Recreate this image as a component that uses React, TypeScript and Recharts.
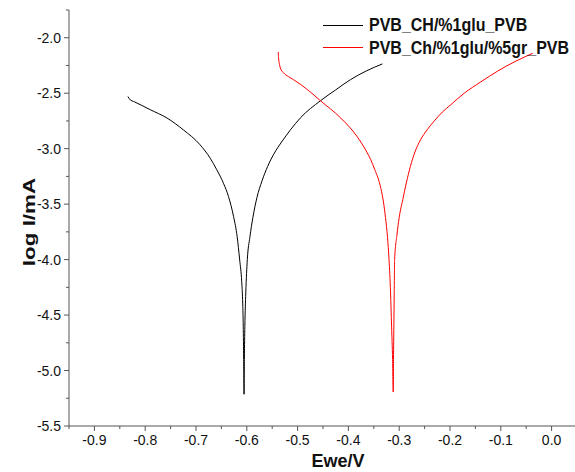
import React from "react";
import { LineChart, Line, XAxis, YAxis, Legend } from "recharts";

const font = '"Liberation Sans", Arial, sans-serif';
const axisColor = "#555";

// Ewe (V) and log I (mA)
const chGluE = [
  -0.834, -0.829, -0.823, -0.79, -0.757, -0.725, -0.692, -0.672, -0.659, -0.646,
  -0.636, -0.626, -0.619, -0.614, -0.61, -0.608, -0.607, -0.6062, -0.6054, -0.6048,
  -0.6038, -0.602, -0.599, -0.594, -0.588, -0.58, -0.57, -0.559, -0.547, -0.53,
  -0.514, -0.494, -0.455, -0.425, -0.396, -0.365, -0.333,
];
const chGluLogI = [
  -2.53, -2.562, -2.574, -2.649, -2.724, -2.83, -2.965, -3.086, -3.191, -3.311,
  -3.432, -3.613, -3.793, -4.004, -4.2, -4.4, -4.6, -4.9, -5.214, -4.9,
  -4.6, -4.3, -4.0, -3.8, -3.62, -3.44, -3.29, -3.16, -3.05, -2.93,
  -2.83, -2.72, -2.568, -2.47, -2.378, -2.3, -2.236,
];

const grE = [
  -0.538, -0.5375, -0.536, -0.534, -0.528, -0.518, -0.508, -0.48, -0.455, -0.415,
  -0.383, -0.365, -0.356, -0.348, -0.342, -0.336, -0.331, -0.327, -0.323, -0.32,
  -0.317, -0.315, -0.313, -0.3117, -0.3112, -0.3105, -0.3098, -0.309, -0.3045, -0.3,
  -0.293, -0.286, -0.278, -0.269, -0.258, -0.245, -0.231, -0.215, -0.2, -0.172,
  -0.14, -0.106, -0.07, -0.037,
];
const grLogI = [
  -2.128, -2.18, -2.23, -2.272, -2.315, -2.35, -2.378, -2.47, -2.568, -2.724,
  -2.89, -3.02, -3.1, -3.19, -3.26, -3.36, -3.48, -3.62, -3.8, -4.0,
  -4.3, -4.6, -4.9, -5.194, -4.9, -4.6, -4.3, -4.0, -3.78, -3.62,
  -3.46, -3.31, -3.16, -3.03, -2.92, -2.83, -2.75, -2.67, -2.61, -2.5,
  -2.4, -2.3, -2.21, -2.14,
];

const seriesNames = ["PVB_CH/%1glu_PVB", "PVB_Ch/%1glu/%5gr_PVB"];
const seriesColors = ["#000000", "#ff0000"];

const xTicks = [
  -0.95, -0.9, -0.85, -0.8, -0.75, -0.7, -0.65, -0.6, -0.55, -0.5, -0.45,
  -0.4, -0.35, -0.3, -0.25, -0.2, -0.15, -0.1, -0.05, 0, 0.05,
];
const yTicks = [
  -5.5, -5.25, -5.0, -4.75, -4.5, -4.25, -4.0, -3.75, -3.5, -3.25, -3.0,
  -2.75, -2.5, -2.25, -2.0, -1.75,
];

const toRows = (xs: number[], ys: number[]) => xs.map((e, i) => ({ e, logI: ys[i] }));
const chGluRows = toRows(chGluE, chGluLogI);
const grRows = toRows(grE, grLogI);

const isMajorX = (v: number) => Math.abs(v * 10 - Math.round(v * 10)) < 1e-6;
const isMajorY = (v: number) => Math.abs(v * 2 - Math.round(v * 2)) < 1e-6;

const BottomTick = (props: any) => {
  const { x, y, payload } = props;
  const major = isMajorX(payload.value);
  return (
    <g>
      <line x1={x} x2={x} y1={y} y2={y + (major ? 5 : 3)} stroke={axisColor} />
      {major && (
        <text x={x} y={y + 19} textAnchor="middle" fontSize={14} fontFamily={font} fill="#111">
          {payload.value.toFixed(1)}
        </text>
      )}
    </g>
  );
};

const TopTick = (props: any) => {
  const { x, y, payload } = props;
  const major = isMajorX(payload.value);
  return <line x1={x} x2={x} y1={y} y2={y + (major ? 4 : 2)} stroke={axisColor} />;
};

const LeftTick = (props: any) => {
  const { x, y, payload } = props;
  const major = isMajorY(payload.value);
  return (
    <g>
      <line x1={x - (major ? 5 : 3)} x2={x} y1={y} y2={y} stroke={axisColor} />
      {major && (
        <text x={x - 8} y={y + 5} textAnchor="end" fontSize={14} fontFamily={font} fill="#111">
          {payload.value.toFixed(1)}
        </text>
      )}
    </g>
  );
};

const YTitle = () => (
  <text
    transform="translate(29,222) rotate(-90) scale(1.4,1)"
    textAnchor="middle"
    dominantBaseline="central"
    fontSize={16}
    fontWeight={700}
    fontFamily={font}
    fill="#111"
  >
    log I/mA
  </text>
);

const XTitle = () => (
  <text x={338} y={467} textAnchor="middle" fontSize={18} fontWeight={700} fontFamily={font} fill="#111">
    Ewe/V
  </text>
);

const LegendBox = () => (
  <div style={{ fontFamily: font, fontWeight: 700, fontSize: 16, color: "#111" }}>
    {seriesNames.map((n, i) => (
      <div key={n} style={{ display: "flex", alignItems: "center", height: 22.5, whiteSpace: "nowrap" }}>
        <span style={{ display: "block", flexShrink: 0, width: 40, borderTop: `1px solid ${seriesColors[i]}`, marginRight: 6 }} />
        <span style={{ display: "inline-block", transform: "scaleY(1.15)" }}>{n}</span>
      </div>
    ))}
  </div>
);

export default function App() {
  return (
    <div style={{ position: "fixed", left: 0, top: 0, width: 575, height: 472, overflow: "hidden", background: "#fff" }}>
      <LineChart width={600} height={472} margin={{ top: 10, right: 23, bottom: 0, left: 0 }}>
        <XAxis
          dataKey="e"
          type="number"
          domain={[-0.95, 0.05]}
          ticks={xTicks}
          interval={0}
          allowDataOverflow
          tickLine={false}
          tickSize={0}
          tickMargin={0}
          tick={<BottomTick />}
          axisLine={{ stroke: axisColor }}
          height={46}
          label={<XTitle />}
        />
        <XAxis
          xAxisId="top"
          orientation="top"
          type="number"
          domain={[-0.95, 0.05]}
          ticks={xTicks}
          interval={0}
          allowDataOverflow
          tickLine={false}
          tickSize={0}
          tickMargin={0}
          tick={<TopTick />}
          axisLine={{ stroke: axisColor }}
          height={0}
        />
        <YAxis
          type="number"
          domain={[-5.5, -1.75]}
          ticks={yTicks}
          interval={0}
          allowDataOverflow
          tickLine={false}
          tickSize={0}
          tickMargin={0}
          tick={<LeftTick />}
          axisLine={{ stroke: axisColor }}
          width={69}
          label={<YTitle />}
        />
        <Legend
          layout="horizontal"
          verticalAlign="middle"
          align="center"
          content={<LegendBox />}
          wrapperStyle={{ top: 14, left: 323, width: 260, height: 46 }}
        />
        <Line
          data={chGluRows}
          dataKey="logI"
          name={seriesNames[0]}
          type="monotone"
          stroke={seriesColors[0]}
          strokeWidth={1}
          dot={false}
          isAnimationActive={false}
        />
        <Line
          data={grRows}
          dataKey="logI"
          name={seriesNames[1]}
          type="monotone"
          stroke={seriesColors[1]}
          strokeWidth={1}
          dot={false}
          isAnimationActive={false}
        />
      </LineChart>
    </div>
  );
}
